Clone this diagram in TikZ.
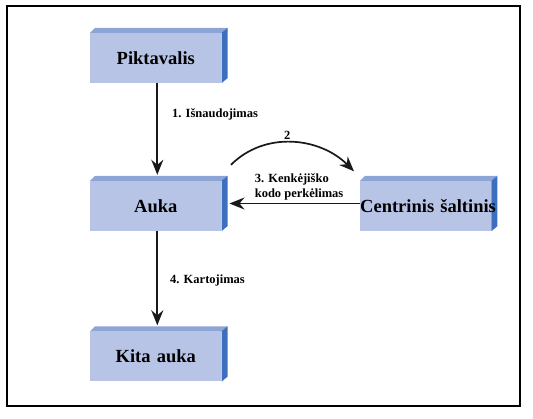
\documentclass[tikz,border=0pt]{standalone}
\usepackage{fontspec}
\setmainfont{Liberation Serif}
\usetikzlibrary{arrows.meta,backgrounds}
\definecolor{facefront}{RGB}{184,196,230}
\definecolor{facetop}{RGB}{140,164,214}
\definecolor{faceside}{RGB}{62,110,190}
\begin{document}
\begin{tikzpicture}[x=1pt, y=-1pt,
  blk/.style={rectangle, fill=facefront, inner xsep=0pt, inner ysep=0pt, text width=131pt, align=center,
    minimum height=50pt, font=\fontsize{18.5}{22}\selectfont\bfseries},
  lbl/.style={inner sep=0pt, anchor=west, align=left, font=\fontsize{12.5}{14.3}\selectfont\bfseries},
  fl/.style={line width=1.7pt, black!90, -{Stealth[length=15pt, width=12pt, inset=5pt]}}]
\useasboundingbox (0,0) rectangle (533,419);
\draw[line width=2pt] (7,6) rectangle (520,406);
\node[blk] (pikt) at (155.8,58) {Piktavalis};
\node[blk] (auka) at (155.8,206) {Auka};
\node[blk] (kita) at (155.8,356.5) {Kita auka};
\node[blk] (cent) at (425.7,206) {\makebox[131pt][l]{Centrinis šaltinis}};
% 3d look of the blocks
\begin{scope}[on background layer]
\foreach \n in {pikt,auka,kita,cent}{
  \fill[facetop] (\n.north west) -- ++(5pt,5pt) -- ([shift={(6pt,5pt)}]\n.north east) -- (\n.north east) -- cycle;
  \fill[faceside] (\n.north east) -- ++(6pt,5pt) -- ([shift={(6pt,5pt)}]\n.south east) -- (\n.south east) -- cycle;
}
\end{scope}
\draw[fl] ([xshift=1.5pt]pikt.south) -- ([shift={(1.5pt,6pt)}]auka.north);
\draw[fl] ([shift={(9.5pt,16pt)}]auka.north east) to[out=45, in=135] ([shift={(-6pt,9.5pt)}]cent.north west);
\draw[fl] ([yshift=2.5pt]cent.west) -- ([shift={(8pt,2.5pt)}]auka.east);
\draw[fl] ([xshift=1.5pt]auka.south) -- ([shift={(1.5pt,6pt)}]kita.north);
\node[lbl] (l1) at (172,114) {1. Išnaudojimas};
\node[lbl] (l2) at (284,135.6) {2};
\node[lbl] (l3) at (254.6,187) {3. Kenkėjiško\\kodo perkėlimas};
\node[lbl] (l4) at (170,280.4) {4. Kartojimas};
\end{tikzpicture}
\end{document}
